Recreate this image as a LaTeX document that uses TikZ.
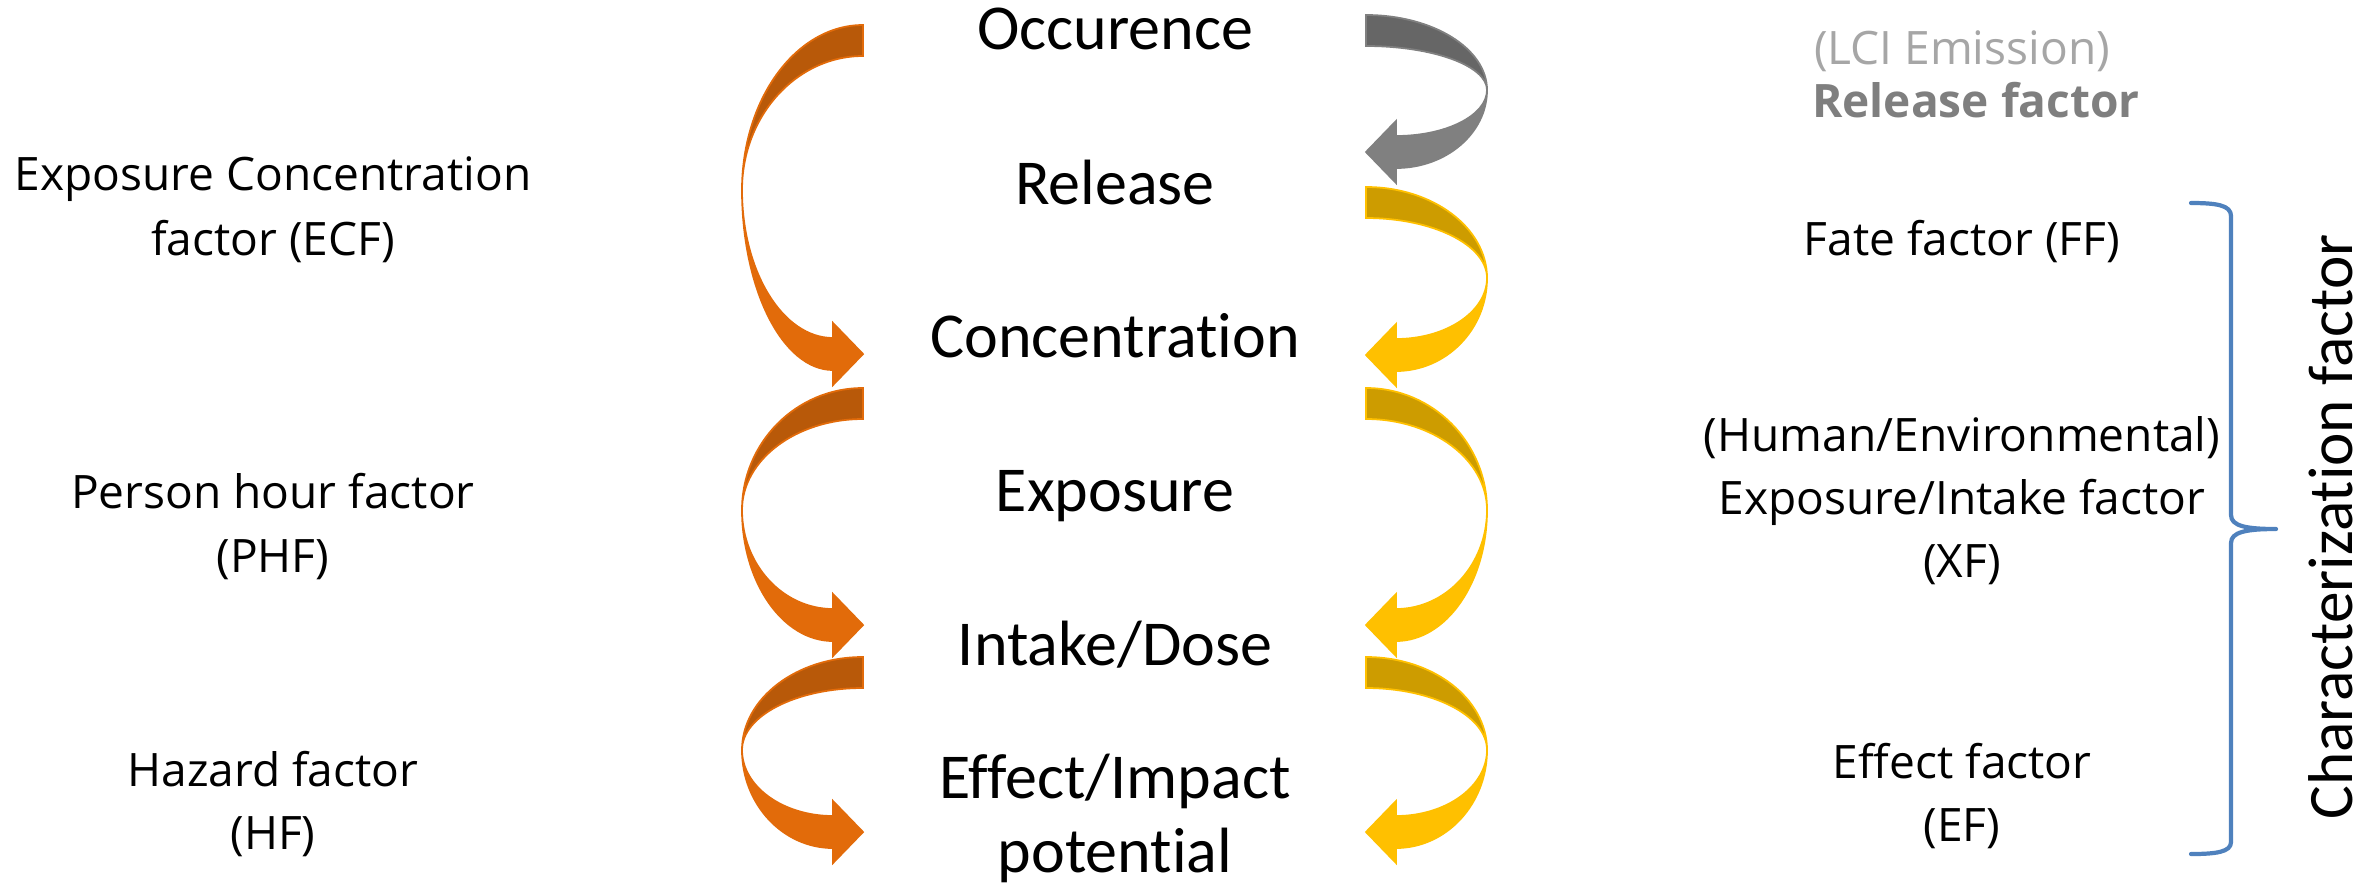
\documentclass[tikz,border=0pt]{standalone}
\usepackage{fontspec}
\newfontfamily\calib[Ligatures=NoCommon]{Carlito}
\newfontfamily\segoe[Ligatures=NoCommon]{Open Sans}
\definecolor{orD}{RGB}{184,89,9}
\definecolor{orL}{RGB}{226,107,10}
\definecolor{yeD}{RGB}{205,156,0}
\definecolor{yeL}{RGB}{255,192,0}
\definecolor{grD}{RGB}{102,102,102}
\definecolor{grL}{RGB}{128,128,128}
\definecolor{braceblue}{RGB}{79,129,189}
\definecolor{lcigray}{RGB}{166,166,166}
\definecolor{relgray}{RGB}{127,127,127}
% #1 X0 (tail/tip x), #2 side (-1 left bulge, +1 right bulge), #3 tail top y, #4 extreme y, #5 tip y, #6 dark, #7 light
\newcommand\ribbonarrow[7]{%
 \pgfmathsetmacro\cxR{#1+#2*121}%
 \pgfmathsetmacro\cxA{#1+#2*0.552*121}%
 \pgfmathsetmacro\cxB{#1+#2*30}%
 \pgfmathsetmacro\cxC{\cxB+#2*0.552*91}%
 \pgfmathsetmacro\cyA{#4-0.552*(#4-#3)}%
 \pgfmathsetmacro\cyB{#4-0.552*(#4-#3-31)}%
 \pgfmathsetmacro\cyO{#5+16}%
 \pgfmathsetmacro\cyI{#5-16}%
 \pgfmathsetmacro\cyC{#4+0.552*(\cyO-#4)}%
 \pgfmathsetmacro\cyD{#4+0.552*(\cyI-#4)}%
 \pgfmathsetmacro\cyBt{#5-31}%
 \pgfmathsetmacro\cyBb{#5+31}%
 \pgfmathsetmacro\cyT{#3+31}%
 \filldraw[fill=#6, draw=#7, ribbonedge] (#1,#3) .. controls (\cxA,#3) and (\cxR,\cyA) .. (\cxR,#4)
   .. controls (\cxR,\cyB) and (\cxA,\cyT) .. (#1,\cyT) -- cycle;
 \filldraw[fill=#7, draw=#7, ribbonedge] (\cxR,#4) .. controls (\cxR,\cyC) and (\cxC,\cyO) .. (\cxB,\cyO)
   -- (\cxB,\cyBb) -- (#1,#5) -- (\cxB,\cyBt) -- (\cxB,\cyI)
   .. controls (\cxC,\cyI) and (\cxR,\cyD) .. (\cxR,#4) -- cycle;
}
\tikzset{
  ribbonedge/.style={line width=0.5pt, line join=miter},
  stage/.style={font=\calib\fontsize{18.2pt}{21.6pt}\selectfont, inner sep=0pt, anchor=base},
  factor/.style={font=\segoe\fontsize{13.1pt}{16pt}\selectfont, inner sep=0pt, anchor=base},
}
\begin{document}
\begin{tikzpicture}[x=0.01cm, y=-0.01cm]
\useasboundingbox (0,0) rectangle (2367,890);

% central stages
\node[stage] (occ) at (1115,49) {Occurence};
\node[stage] (rel) at (1115,204) {Release};
\node[stage] (con) at (1115,357) {Concentration};
\node[stage] (exp) at (1115,511) {Exposure};
\node[stage] (int) at (1115,665) {Intake/Dose};
\node[stage] (effA) at (1115,798) {Effect/Impact};
\node[stage] (effB) at (1115,872) {potential};

% left ribbon arrows
\ribbonarrow{863}{-1}{25}{190}{354}{orD}{orL}
\ribbonarrow{863}{-1}{388}{510}{625}{orD}{orL}
\ribbonarrow{863}{-1}{657}{750}{832}{orD}{orL}
% right ribbon arrows
\ribbonarrow{1366}{1}{15}{90}{152}{grD}{grL}
\ribbonarrow{1366}{1}{187}{278}{355}{yeD}{yeL}
\ribbonarrow{1366}{1}{388}{510}{625}{yeD}{yeL}
\ribbonarrow{1366}{1}{657}{750}{832}{yeD}{yeL}

% left factors
\node[factor] (ecfA) at (273,190) {Exposure Concentration};
\node[factor] (ecfB) at (273,255) {factor (ECF)};
\node[factor] (phfA) at (273,508) {Person hour factor};
\node[factor] (phfB) at (273,572) {(PHF)};
\node[factor] (hfA) at (273,786) {Hazard factor};
\node[factor] (hfB) at (273,849) {(HF)};

% right factors
\node[factor, text=lcigray] (lci) at (1962,64) {(LCI Emission)};
\node[factor, text=relgray, font=\segoe\bfseries\fontsize{13.1pt}{16pt}\selectfont] (rf) at (1976,117) {Release factor};
\node[factor] (ff) at (1962,255) {Fate factor (FF)};
\node[factor] (xfA) at (1962,451) {(Human/Environmental)};
\node[factor] (xfB) at (1962,514) {Exposure/Intake factor};
\node[factor] (xfC) at (1962,577) {(XF)};
\node[factor] (efA) at (1962,778) {Effect factor};
\node[factor] (efB) at (1962,841) {(EF)};

% brace
\coordinate (brT) at (2191,203);
\coordinate (brM) at (2276,529);
\coordinate (brB) at (2191,854);
\draw[braceblue, line width=1.2pt, line cap=round, line join=round]
  (brT) .. controls (2216,203) and (2231,205) .. (2231,216)
  -- (2231,515) .. controls (2231,526) and (2246,529) .. (brM)
  .. controls (2246,529) and (2231,532) .. (2231,543)
  -- (2231,842) .. controls (2231,852) and (2216,854) .. (brB);

% characterization factor
\node[stage, rotate=90, font=\calib\fontsize{18pt}{21pt}\selectfont] (cf) at (2352,527) {Characterization factor};
\end{tikzpicture}
\end{document}
